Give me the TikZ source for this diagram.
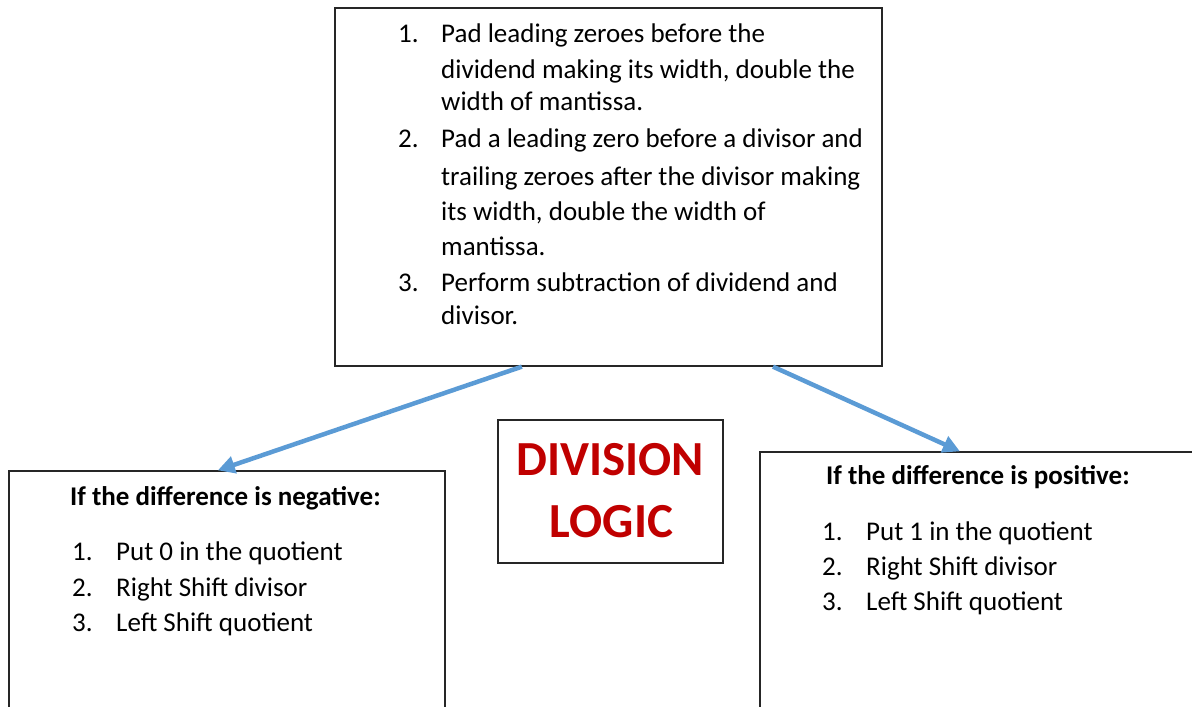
\documentclass[tikz,border=0pt]{standalone}
\usepackage{fontspec}
\setmainfont{Carlito}
\usetikzlibrary{arrows.meta,calc}
\definecolor{arrowblue}{HTML}{5B9BD5}
\definecolor{logicred}{HTML}{C00000}

\begin{document}
\begin{tikzpicture}[x=1pt,y=-1pt]
    \tikzstyle{textbox} = [rectangle, draw=black!85, line width=1.3pt, inner sep=0pt]
    \tikzstyle{steptext} = [anchor=base west, inner sep=0pt, font=\fontsize{27}{32}\selectfont]
    \tikzstyle{headtext} = [steptext, font=\fontsize{27}{32}\selectfont\bfseries]
    \tikzstyle{branch} = [arrowblue, line width=4.5pt, -{Triangle[length=17pt,width=17pt]}]

    \useasboundingbox (0,0) rectangle (1192,707);
    \clip (0,0) rectangle (1192,707);

    % Boxes
    \node[textbox, minimum width=547pt, minimum height=358pt] (setup) at (608.5,187) {};
    \node[textbox, minimum width=436pt, minimum height=249pt] (negbox) at (227,595.5) {};
    \node[textbox, minimum width=440pt, minimum height=268pt] (posbox) at (980,586) {};
    \node[textbox, minimum width=225pt, minimum height=143pt] (titlebox) at (610.5,491.5) {};

    % Setup steps
    \node[steptext] (s1) at (398,42) {1.};
    \node[steptext] (s1a) at (441,42) {Pad leading zeroes before the};
    \node[steptext] (s1b) at (441,78) {dividend making its width, double the};
    \node[steptext] (s1c) at (441,110) {width of mantissa.};
    \node[steptext] (s2) at (398,147) {2.};
    \node[steptext] (s2a) at (441,147) {Pad a leading zero before a divisor and};
    \node[steptext] (s2b) at (441,185) {trailing zeroes after the divisor making};
    \node[steptext] (s2c) at (441,220) {its width, double the width of};
    \node[steptext] (s2d) at (441,255) {mantissa.};
    \node[steptext] (s3) at (398,291) {3.};
    \node[steptext] (s3a) at (441,291) {Perform subtraction of dividend and};
    \node[steptext] (s3b) at (441,324) {divisor.};

    % Negative branch
    \node[headtext] (neghead) at (70,505) {If the difference is negative:};
    \foreach \n/\y/\txt in {1/560/{Put 0 in the quotient}, 2/596/{Right Shift divisor}, 3/631/{Left Shift quotient}} {
        \node[steptext] (negnum\n) at (72,\y) {\n.};
        \node[steptext] (negstep\n) at (116,\y) {\txt};
    }

    % Positive branch
    \node[headtext] (poshead) at (826,484) {If the difference is positive:};
    \foreach \n/\y/\txt in {1/540/{Put 1 in the quotient}, 2/575/{Right Shift divisor}, 3/610/{Left Shift quotient}} {
        \node[steptext] (posnum\n) at (822,\y) {\n.};
        \node[steptext] (posstep\n) at (866,\y) {\txt};
    }

    % Title
    \node[anchor=base, inner sep=0pt, text=logicred, font=\fontsize{49}{62}\selectfont\bfseries] (divword) at (610,475) {DIVISION};
    \node[anchor=base, inner sep=0pt, text=logicred, font=\fontsize{49}{62}\selectfont\bfseries] (logicword) at (611.5,537) {LOGIC};

    % Arrows
    \draw[branch] ($(setup.south west)!0.342!(setup.south east)$) -- ($(negbox.north west)!0.479!(negbox.north east)$);
    \draw[branch] ($(setup.south west)!0.80!(setup.south east)$) -- ($(posbox.north west)!0.4545!(posbox.north east)$);
\end{tikzpicture}
\end{document}
